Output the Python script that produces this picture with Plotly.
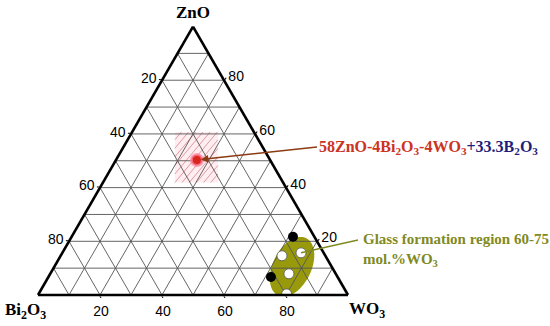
import math
import plotly.graph_objects as go

# ---------------- data ----------------
grid_values = [10, 20, 30, 40, 50, 60, 70, 80, 90]
left_tick_labels = ["20", "40", "60", "80"]     # Bi2O3 mol% along the left edge
bottom_tick_labels = ["20", "40", "60", "80"]   # WO3 mol% along the bottom edge
right_tick_labels = ["20", "40", "60", "80"]    # ZnO mol% along the right edge

# studied composition (ZnO, Bi2O3, WO3 in mol%)
sample_zno = [50.3]
sample_bi = [23.6]
sample_wo3 = [26.1]

# glass-forming region points
black_zno = [21.7, 6.7]
black_bi = [6.9, 21.5]
black_wo3 = [71.4, 71.8]

white_zno = [14.6, 15.7, 7.9, 0.4]
white_bi = [14.0, 7.3, 15.1, 19.6]
white_wo3 = [71.4, 77.0, 77.0, 80.0]

# hatched neighbourhood of the studied composition (corners)
hatch_zno = [60.7, 60.7, 41.9, 41.9]
hatch_wo3 = [13.9, 27.7, 37.1, 23.2]
hatch_bi = [100 - z - w for z, w in zip(hatch_zno, hatch_wo3)]

# glass formation region (ellipse): centre composition, semi-axes (% of edge), tilt
region_center = (10.5, 12.8, 76.7)   # ZnO, Bi2O3, WO3
region_semi_major = 10.3
region_semi_minor = 6.2
region_tilt_deg = 64

# ---------------- geometry helpers ----------------
W, H = 550, 326
TRI_LEFT, TRI_BASE, TRI_BOTTOM = 38, 310, 295
S3 = math.sqrt(3) / 2
dom_x = [TRI_LEFT / W, (TRI_LEFT + TRI_BASE) / W]
dom_y = [(H - TRI_BOTTOM) / H, (H - TRI_BOTTOM + TRI_BASE * S3) / H]


def to_xy(zno, wo3):
    return wo3 / 100 + zno / 200, zno / 100 * S3


def from_xy(x, y):
    zno = y / S3 * 100
    wo3 = x * 100 - zno / 2
    return zno, 100 - zno - wo3, wo3


def to_px(zno, wo3):
    x, y = to_xy(zno, wo3)
    return TRI_LEFT + TRI_BASE * x, TRI_BOTTOM - TRI_BASE * y


# ellipse outline
ell_a, ell_b, ell_c = [], [], []
cx, cy = to_xy(region_center[0], region_center[2])
t = math.radians(region_tilt_deg)
for i in range(73):
    th = 2 * math.pi * i / 72
    ex = region_semi_major / 100 * math.cos(th)
    ey = region_semi_minor / 100 * math.sin(th)
    x = cx + ex * math.cos(t) - ey * math.sin(t)
    y = cy + ex * math.sin(t) + ey * math.cos(t)
    z, b, w = from_xy(x, y)
    ell_a.append(z); ell_b.append(b); ell_c.append(w)

# hatch lines
hx = [to_xy(z, w)[0] for z, w in zip(hatch_zno, hatch_wo3)]
hy = [to_xy(z, w)[1] for z, w in zip(hatch_zno, hatch_wo3)]
x0, x1, y0, y1 = min(hx), max(hx), min(hy), max(hy)
m = math.tan(math.radians(50))
step = 5.5 / TRI_BASE / math.cos(math.radians(50))
ha, hb, hc = [], [], []
k = y0 - m * x1
while k < y1 - m * x0:
    xs = max(x0, (y0 - k) / m)
    xe = min(x1, (y1 - k) / m)
    if xe > xs:
        for xx in (xs, xe):
            z, b, w = from_xy(xx, m * xx + k)
            ha.append(z); hb.append(b); hc.append(w)
        ha.append(None); hb.append(None); hc.append(None)
    k += step

# grid lines (constant ZnO, constant Bi2O3, constant WO3)
ga, gb, gc = [], [], []
for v in grid_values:
    r = 100 - v
    for seg in (((v, r, 0), (v, 0, r)), ((r, v, 0), (0, v, r)), ((r, 0, v), (0, r, v))):
        for p in seg:
            ga.append(p[0]); gb.append(p[1]); gc.append(p[2])
        ga.append(None); gb.append(None); gc.append(None)

fig = go.Figure()

fig.add_trace(go.Scatterternary(
    a=hatch_zno + [hatch_zno[0]], b=hatch_bi + [hatch_bi[0]], c=hatch_wo3 + [hatch_wo3[0]],
    mode="lines", fill="toself", fillcolor="rgba(255,210,220,0.4)",
    line=dict(width=0), hoverinfo="skip"))
fig.add_trace(go.Scatterternary(
    a=ha, b=hb, c=hc, mode="lines",
    line=dict(color="rgba(200,110,110,0.8)", width=0.8), hoverinfo="skip"))
fig.add_trace(go.Scatterternary(
    a=ell_a, b=ell_b, c=ell_c, mode="lines", fill="toself",
    fillcolor="rgb(152,154,12)", line=dict(width=0), hoverinfo="skip"))
fig.add_trace(go.Scatterternary(
    a=ga, b=gb, c=gc, mode="lines",
    line=dict(color="#555555", width=0.9), hoverinfo="skip"))
fig.add_trace(go.Scatterternary(
    a=sample_zno, b=sample_bi, c=sample_wo3, mode="markers",
    marker=dict(size=11, color="#d8261c", line=dict(color="rgba(255,130,160,0.7)", width=3))))
fig.add_trace(go.Scatterternary(
    a=black_zno, b=black_bi, c=black_wo3, mode="markers",
    marker=dict(size=10, color="black")))
fig.add_trace(go.Scatterternary(
    a=white_zno, b=white_bi, c=white_wo3, mode="markers",
    marker=dict(size=10, color="white", line=dict(color="#555", width=0.8))))


def axis(labels):
    vals = [100 - int(s) for s in labels]
    return dict(
        tickvals=vals, ticktext=labels,
        ticks="outside", ticklen=2, tickwidth=1, tickcolor="black",
        tickfont=dict(family="Liberation Sans, Arial", size=14, color="black"),
        showgrid=False, title=dict(text=""),
        linecolor="black", linewidth=2.6,
    )


fig.update_layout(
    width=W, height=H, margin=dict(l=0, r=0, t=0, b=0),
    paper_bgcolor="white", showlegend=False, hovermode=False,
    ternary=dict(
        domain=dict(x=dom_x, y=dom_y), sum=100, bgcolor="white",
        aaxis=axis(left_tick_labels),
        baxis=axis(bottom_tick_labels),
        caxis=axis(right_tick_labels),
    ),
)

serif = "Liberation Serif, Times New Roman"
fig.add_annotation(text="<b>ZnO</b>", x=193 / W, y=1 - 13 / H, xref="paper", yref="paper",
                   xanchor="center", yanchor="middle", showarrow=False,
                   font=dict(family=serif, size=17, color="black"))
fig.add_annotation(text="<b>Bi<sub>2</sub>O<sub>3</sub></b>", x=3 / W, y=1 - 311 / H,
                   xref="paper", yref="paper", xanchor="left", yanchor="middle", showarrow=False,
                   font=dict(family=serif, size=17, color="black"))
fig.add_annotation(text="<b>WO<sub>3</sub></b>", x=347 / W, y=1 - 310 / H,
                   xref="paper", yref="paper", xanchor="left", yanchor="middle", showarrow=False,
                   font=dict(family=serif, size=17, color="black"))

# studied composition callout
hx_px, hy_px = to_px(sample_zno[0], sample_wo3[0])
tail_x, tail_y = 317, 147
fig.add_annotation(
    text="<b><span style='color:#cc3322'>58ZnO-4Bi<sub>2</sub>O<sub>3</sub>-4WO<sub>3</sub></span>"
         "<span style='color:#1f1f7a'>+33.3B<sub>2</sub>O<sub>3</sub></span></b>",
    x=hx_px / W, y=1 - hy_px / H, xref="paper", yref="paper",
    ax=tail_x - hx_px, ay=tail_y - hy_px, xanchor="left", yanchor="middle",
    showarrow=True, arrowhead=2, arrowsize=1, arrowwidth=1.5, arrowcolor="#8b3a12",
    standoff=4, font=dict(family=serif, size=16))

# glass region callout
gx, gy = to_px(white_zno[1], white_wo3[1])
fig.add_shape(type="line", xref="paper", yref="paper",
              x0=gx / W, y0=1 - gy / H, x1=358 / W, y1=1 - 240 / H,
              line=dict(color="#7f8a22", width=1.5))
fig.add_annotation(
    text="<b>Glass formation region 60-75<br>mol.%WO<sub>3</sub></b>",
    x=361 / W, y=1 - 250 / H, xref="paper", yref="paper", xanchor="left", yanchor="middle",
    align="left", showarrow=False, font=dict(family=serif, size=15, color="#7f8a22"))

fig.write_html("out.html", config={"displayModeBar": False},
               post_script="document.body.style.margin='0';document.body.style.overflow='hidden';")
